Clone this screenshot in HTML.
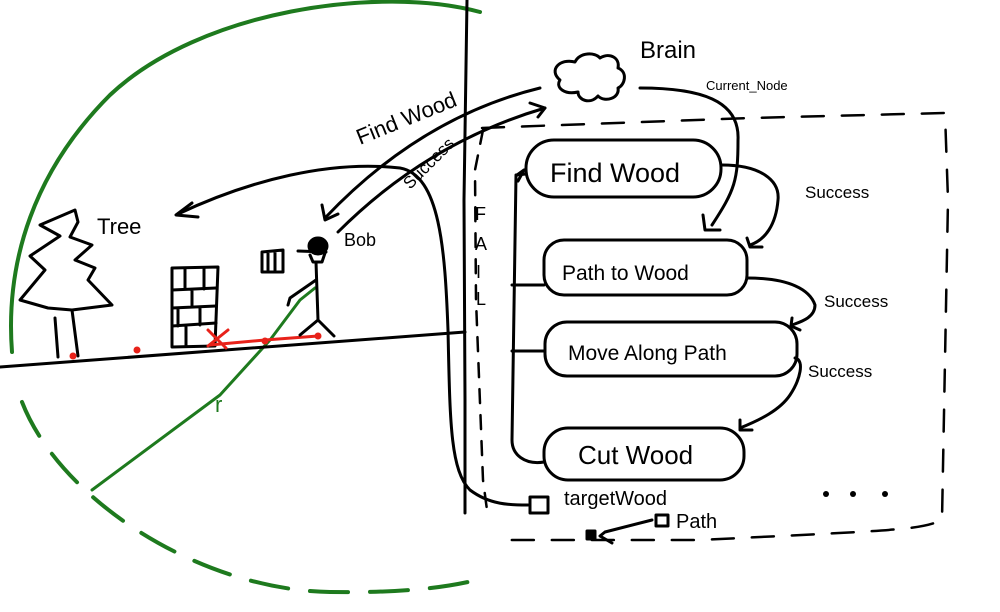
<!DOCTYPE html>
<html><head><meta charset="utf-8"><style>
html,body{margin:0;padding:0;background:#fff;}
svg{display:block}
text{font-family:"Liberation Sans",sans-serif;fill:#000}
</style></head><body>
<svg width="1000" height="612" viewBox="0 0 1000 612" xmlns="http://www.w3.org/2000/svg" fill="none" stroke="#000" stroke-width="3" stroke-linecap="round" stroke-linejoin="round">
<!-- green circle -->
<path d="M480,12 C380,-15 200,10 110,95 C35,170 5,260 12,352" stroke="#1e7a1e" stroke-width="4"/>
<path d="M22,402 C60,500 200,590 330,592 C400,593 440,588 468,582" stroke="#1e7a1e" stroke-width="4" stroke-dasharray="38,22"/>
<!-- radius -->
<path d="M92,490 L220,395 L270,340 L300,300 L315,288" stroke="#1e7a1e" stroke-width="3"/>
<text x="215" y="412" font-size="22" fill="#1e7a1e" stroke="none" style="fill:#1e7a1e">r</text>
<!-- ground -->
<path d="M0,367 L465,332"/>
<!-- tree -->
<path d="M55,318 L58,357 M72,310 L78,356"/>
<path d="M48,308 L20,300 L45,270 L30,256 L60,236 L40,225 L75,210 L78,222 L70,237 L92,245 L75,260 L95,268 L88,280 L112,305 L72,310 Z"/>
<text x="97" y="234" font-size="22" stroke="none">Tree</text>
<!-- brick wall -->
<path d="M172,268 L218,267 L215,346 L172,347 Z"/>
<path d="M172,290 L216,288 M172,308 L216,306 M172,326 L216,323 M185,268 L185,289 M204,268 L204,289 M192,290 L192,307 M178,308 L178,326 M200,308 L200,325 M186,327 L186,346"/>
<!-- red path -->
<path d="M210,345 L265,340 L318,336" stroke="#e8221a" stroke-width="3"/>
<path d="M208,330 L226,348 M208,346 L228,330" stroke="#e8221a" stroke-width="3"/>
<circle cx="265" cy="341" r="3.5" fill="#e8221a" stroke="none"/><circle cx="318" cy="336" r="3.5" fill="#e8221a" stroke="none"/>
<circle cx="73" cy="356" r="3.5" fill="#e8221a" stroke="none"/><circle cx="137" cy="350" r="3.5" fill="#e8221a" stroke="none"/>
<!-- bob -->
<ellipse cx="318" cy="246" rx="9" ry="8" fill="#000"/>
<path d="M298,251 L326,252 M310,255 L313,262 L322,262 L325,253"/>
<path d="M316,262 L318,320 L300,335 M318,320 L334,336 M316,280 L290,298 L288,305"/>
<path d="M262,252 L283,250 L283,272 L262,272 Z M268,253 L268,270 M275,252 L275,270"/>
<text x="344" y="246" font-size="18" stroke="none">Bob</text>
<!-- arrows between brain and bob/tree -->
<path d="M540,88 C450,110 380,160 325,218"/><path d="M322,205 L325,220 L338,214"/>
<path d="M338,232 C400,170 470,130 545,108"/><path d="M530,103 L545,108 L538,117"/>
<text x="360" y="145" font-size="22" stroke="none" transform="rotate(-22 360 145)">Find Wood</text>
<text x="410" y="190" font-size="17" stroke="none" transform="rotate(-45 410 190)">Success</text>
<path d="M178,214 C250,180 330,160 400,168 C440,175 445,250 448,330 C450,420 450,470 470,490 C490,505 510,505 528,505"/>
<path d="M192,203 L176,215 L198,217"/>
<!-- main vertical -->
<path d="M467,0 L464,200 L465,400 L465,513"/>
<!-- brain -->
<path d="M560,80 C548,70 560,58 575,62 C580,52 595,52 600,58 C610,52 620,58 618,68 C628,72 625,85 618,88 C620,98 605,103 598,96 C590,105 578,100 578,92 C565,95 555,88 560,80 Z"/>
<text x="640" y="58" font-size="24" stroke="none">Brain</text>
<text x="706" y="90" font-size="13" stroke="none">Current_Node</text>
<path d="M640,88 C700,88 740,100 738,140 C738,180 735,190 712,225"/><path d="M703,215 L705,230 L720,230"/>
<!-- dashed boundary -->
<path d="M482,128 L750,118 L945,113 L948,200 L942,520 C920,530 900,530 700,540 L495,540" stroke-dasharray="22,18" stroke-width="2.5"/>
<path d="M483,130 L475,170 L476,300 L483,480 L487,510" stroke-dasharray="14,12" stroke-width="2.5"/>
<text x="475" y="220" font-size="18" stroke="none">F</text>
<text x="475" y="250" font-size="18" stroke="none">A</text>
<text x="476" y="278" font-size="18" stroke="none">I</text>
<text x="476" y="305" font-size="18" stroke="none">L</text>
<!-- nodes -->
<rect x="526" y="140" width="195" height="57" rx="28"/>
<text x="550" y="182" font-size="27" stroke="none">Find Wood</text>
<rect x="544" y="240" width="203" height="55" rx="20"/>
<text x="562" y="280" font-size="21" stroke="none">Path to Wood</text>
<rect x="545" y="322" width="252" height="54" rx="22"/>
<text x="568" y="360" font-size="21" stroke="none">Move Along Path</text>
<rect x="544" y="428" width="200" height="52" rx="24"/>
<text x="578" y="464" font-size="26" stroke="none">Cut Wood</text>
<!-- left connector -->
<path d="M526,174 L516,175 L512,440 C512,455 525,465 544,462"/><path d="M517,175 L524,170 L518,181" />
<path d="M512,285 L544,285 M512,351 L545,351"/>
<!-- success arrows -->
<path d="M722,165 C760,165 780,180 778,200 C776,225 765,240 750,245"/><path d="M747,238 L750,247 L762,247"/>
<text x="805" y="198" font-size="17" stroke="none">Success</text>
<path d="M747,278 C790,278 810,290 815,305 C815,318 800,322 792,325"/><path d="M792,318 L791,326 L800,330"/>
<text x="824" y="307" font-size="17" stroke="none">Success</text>
<path d="M795,358 C805,360 800,380 790,395 C780,410 760,420 740,428"/><path d="M740,420 L740,430 L752,430"/>
<text x="808" y="377" font-size="17" stroke="none">Success</text>
<!-- target wood / path -->
<rect x="530" y="497" width="18" height="16"/>
<text x="564" y="505" font-size="20" stroke="none">targetWood</text>
<rect x="656" y="515" width="12" height="11"/>
<text x="676" y="528" font-size="20" stroke="none">Path</text>
<rect x="587" y="531" width="8" height="8" fill="#000"/>
<path d="M652,520 L605,532 L600,536 L612,543"/>
<circle cx="826" cy="494" r="3" fill="#000" stroke="none"/><circle cx="853" cy="494" r="3" fill="#000" stroke="none"/><circle cx="885" cy="494" r="3" fill="#000" stroke="none"/>
</svg>
</body></html>
